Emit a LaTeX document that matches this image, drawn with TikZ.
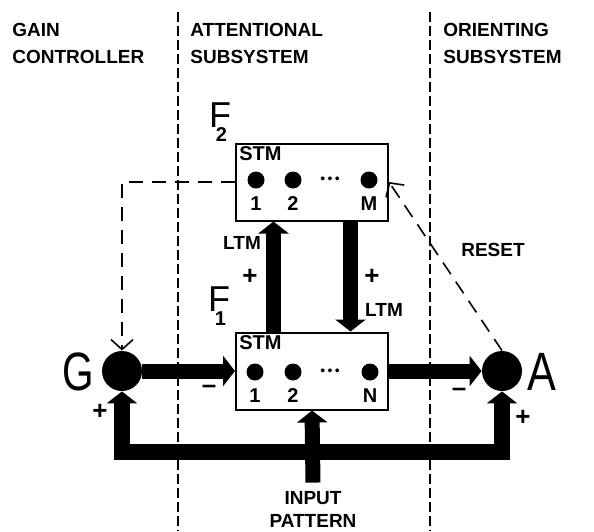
\documentclass[tikz,border=0pt]{standalone}
\usepackage{fontspec}
\setmainfont{Liberation Sans}
\usetikzlibrary{calc}
\usetikzlibrary{positioning, arrows.meta}

\begin{document}
\begin{tikzpicture}[
    x=0.5pt, y=-0.5pt,
    layer/.style={rectangle, draw, line width=1pt, minimum width=76pt, minimum height=38.5pt, inner sep=0pt},
    unit/.style={circle, fill, inner sep=0pt, minimum size=8.5pt},
    gate/.style={circle, fill, inner sep=0pt, minimum size=20pt},
    num/.style={font=\bfseries\fontsize{10}{10}\selectfont, inner sep=1pt},
    head/.style={anchor=west, align=left, inner sep=0pt, font=\bfseries\fontsize{9.5}{13.5}\selectfont},
    tag/.style={font=\bfseries\fontsize{9.5}{11.5}\selectfont, align=center, inner sep=0pt},
    sign/.style={font=\bfseries\fontsize{13}{13}\selectfont, inner sep=0pt},
    big/.style={font=\fontsize{27}{27}\selectfont, inner sep=0pt},
    fname/.style={font=\fontsize{18}{18}\selectfont, inner sep=0pt},
    fat/.style={line width=7.5pt, -{Triangle[length=6pt,width=15pt]}},
    fatboth/.style={line width=8pt, line join=miter, {Triangle[length=6pt,width=15pt]}-{Triangle[length=6pt,width=15pt]}},
    sep/.style={line width=0.8pt, dash pattern=on 5pt off 2pt},
    ctrl/.style={line width=0.8pt, dash pattern=on 7pt off 4.5pt, -{Straight Barb[length=5pt,width=11pt]}}
]
    \useasboundingbox (0,0) rectangle (594,531);

    % Subsystem borders
    \coordinate (sepLtop) at (178,12);
    \coordinate (sepLbot) at (178,531);
    \coordinate (sepRtop) at (430,12);
    \coordinate (sepRbot) at (430,531);
    \draw [sep] (sepLtop) -- (sepLbot);
    \draw [sep] (sepRtop) -- (sepRbot);

    % Headings
    \node [head] (gain)   at (12,43.5)  {GAIN\\CONTROLLER};
    \node [head] (attn)   at (190,43.5) {ATTENTIONAL\\SUBSYSTEM};
    \node [head] (orient) at (443,43.5) {ORIENTING\\SUBSYSTEM};

    % STM fields
    \node [layer] (F2) at (312,182) {};
    \node [layer] (F1) at (312,371) {};
    \node [num, anchor=north west, inner sep=2pt] (stm2) at (F2.north west) {STM};
    \node [num, anchor=north west, inner sep=2pt] (stm1) at (F1.north west) {STM};
    \node [fname] (f2name) at (218,122) {F\kern-0.42em\raisebox{-0.38em}{\fontsize{10}{10}\selectfont\bfseries 2}};
    \node [fname] (f1name) at (217,306) {F\kern-0.42em\raisebox{-0.38em}{\fontsize{10}{10}\selectfont\bfseries 1}};

    % F2 units
    \node [unit, label={[num, label distance=2.5pt]below:1}] (y1) at (256,180) {};
    \node [unit, label={[num, label distance=2.5pt]below:2}] (y2) at (293,180) {};
    \node [font=\fontsize{7}{7}\selectfont] (ydots) at (330,180) {\textbullet\,\textbullet\,\textbullet};
    \node [unit, label={[num, label distance=2.5pt]below:M}] (yM) at (369,180) {};

    % F1 units
    \node [unit, label={[num, label distance=2.5pt]below:1}] (x1) at (255,372) {};
    \node [unit, label={[num, label distance=2.5pt]below:2}] (x2) at (293,372) {};
    \node [font=\fontsize{7}{7}\selectfont] (xdots) at (330,372) {\textbullet\,\textbullet\,\textbullet};
    \node [unit, label={[num, label distance=2.5pt]below:N}] (xN) at (370,372) {};

    % Gain control and orienting nodes
    \node [gate] (G) at (122,371) {};
    \node [gate] (A) at (502,371) {};
    \node [big] (gname) at (78,372) {\scalebox{0.75}[1]{G}};
    \node [big] (aname) at (542,372) {\scalebox{0.8}[1]{A}};

    % Adaptive filters between F1 and F2
    \coordinate (ltmup) at ($(F1.north west)!0.25!(F1.north east)$);
    \coordinate (ltmdown) at ($(F2.south west)!0.75!(F2.south east)$);
    \draw [fat] (ltmup) -- (ltmup |- F2.south);
    \draw [fat] (ltmdown) -- (ltmdown |- F1.north);
    \node [tag] (ltm2) at (242,243) {LTM};
    \node [sign] (plus2) at (250,277) {+};
    \node [sign] (plus1) at (372,277) {+};
    \node [tag] (ltm1) at (384,310) {LTM};

    % Inhibitory paths
    \draw [fat] (G.east) -- (F1.west);
    \draw [fat] (F1.east) -- (A.west);
    \node [sign] (minusG) at (209,389) {\textendash};
    \node [sign] (minusA) at (459,392) {\textendash};

    % Input pattern and excitatory feedback
    \node [tag] (pattern) at (313,509) {INPUT\\PATTERN};
    \coordinate (inp) at ([yshift=4pt]pattern.north);
    \coordinate (fb) at (313,452);
    \draw [fatboth] (G.south) |- (fb) -| (A.south);
    \draw [fat] (inp) -- (F1.south);
    \node [sign] (plusG) at (100,412) {+};
    \node [sign] (plusA) at (523,418) {+};

    % Nonspecific control signals (dashed)
    \draw [ctrl] (F2.west) -| (G.north);
    \draw [ctrl] (A.north) -- (F2.east);
    \node [tag] (reset) at (493,250) {RESET};

\end{tikzpicture}
\end{document}
